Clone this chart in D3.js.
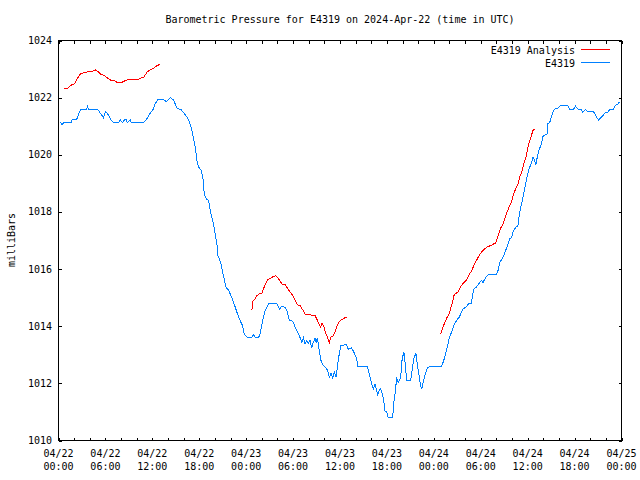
<!DOCTYPE html>
<html>
<head>
<meta charset="utf-8">
<script src="https://cdn.jsdelivr.net/npm/d3@7"></script>
<style>
  html, body { margin: 0; padding: 0; background: #fff; }
  svg { display: block; }
  text { font-family: "DejaVu Sans Mono", "Liberation Mono", monospace; font-size: 10px; fill: #000; }
</style>
</head>
<body>
<script>
// ---- data (hours after 2024-04-22 00:00 UTC, pressure in mb) ----
const startTime = "2024-04-22T00:00:00Z";
const endTime = "2024-04-25T00:00:00Z";
const yDomain = [1010, 1024];
const yTicks = [1010, 1012, 1014, 1016, 1018, 1020, 1022, 1024];
const seriesNames = ["E4319 Analysis", "E4319"];
const seriesColors = ["#ff0000", "#0080ff"];

const obsHours = [0.26,0.45,0.64,1.66,1.72,2.30,2.81,3.57,3.70,3.83,4.98,5.49,5.74,6.00,6.26,6.64,7.02,7.66,7.92,8.17,8.43,8.68,8.81,9.19,9.32,10.85,11.36,11.74,12.13,12.38,12.77,13.40,13.79,14.30,14.68,15.19,15.70,16.09,16.47,16.76,17.07,17.27,17.49,17.71,17.91,18.26,18.47,18.64,18.89,19.19,19.49,19.83,20.04,20.26,20.39,20.59,20.77,21.03,21.23,21.45,21.74,21.96,22.30,22.60,22.89,23.23,23.53,23.74,24.00,24.34,24.64,24.93,25.15,25.57,25.79,26.00,26.21,26.43,26.64,26.85,27.92,28.25,28.56,28.98,29.27,29.53,29.96,30.26,30.55,30.80,31.11,31.32,31.53,31.75,31.95,32.17,32.39,32.59,32.81,32.94,33.10,33.32,33.57,33.87,34.21,34.43,34.63,34.85,35.07,35.27,35.49,35.66,35.87,36.13,36.42,36.77,37.06,37.49,37.79,38.13,38.30,39.49,39.74,39.92,40.12,40.25,40.47,40.69,40.81,41.02,41.20,41.40,41.62,41.74,41.96,42.17,42.73,42.89,43.06,43.24,43.45,43.66,43.79,43.95,44.17,44.34,44.52,45.03,45.23,45.45,45.66,45.79,45.87,46.09,46.30,46.47,46.64,46.85,47.07,47.27,48.13,48.98,49.19,49.40,49.62,49.95,50.26,50.55,50.90,51.23,51.54,51.74,52.09,52.51,52.81,52.94,53.11,53.45,53.78,54.09,54.30,54.51,54.81,54.93,56.00,56.21,56.43,56.77,56.94,57.19,57.49,57.70,57.92,58.13,58.47,58.76,58.89,59.07,59.32,59.53,59.74,59.96,60.17,60.47,60.68,60.89,61.02,61.19,61.44,61.75,61.95,62.30,62.47,62.60,62.81,63.03,63.32,63.57,63.87,64.17,65.14,65.36,65.87,66.13,66.42,66.86,67.06,67.40,67.70,68.43,68.68,68.85,69.06,69.32,69.61,69.96,70.25,70.47,70.98,71.20,71.53,71.74];
const obsPressure = [1021.14,1021.03,1021.12,1021.12,1021.22,1021.22,1021.58,1021.58,1021.69,1021.60,1021.60,1021.40,1021.30,1021.50,1021.45,1021.25,1021.12,1021.12,1021.22,1021.12,1021.22,1021.22,1021.12,1021.22,1021.12,1021.12,1021.28,1021.46,1021.60,1021.80,1021.95,1021.95,1021.85,1022.00,1021.93,1021.62,1021.57,1021.45,1021.30,1021.14,1020.85,1020.56,1020.27,1019.80,1019.57,1019.45,1019.20,1018.63,1018.46,1018.40,1017.93,1017.58,1017.23,1016.88,1016.47,1016.36,1016.18,1015.83,1015.60,1015.34,1015.27,1015.13,1014.90,1014.67,1014.43,1014.20,1014.02,1013.73,1013.64,1013.59,1013.59,1013.70,1013.62,1013.59,1013.73,1014.05,1014.31,1014.55,1014.67,1014.78,1014.78,1014.60,1014.70,1014.65,1014.50,1014.20,1014.18,1013.97,1013.79,1013.67,1013.44,1013.60,1013.38,1013.50,1013.40,1013.50,1013.24,1013.44,1013.58,1013.44,1013.60,1013.20,1012.80,1012.62,1012.54,1012.45,1012.21,1012.35,1012.19,1012.39,1012.21,1012.57,1012.97,1013.33,1013.33,1013.38,1013.20,1013.24,1013.08,1012.86,1012.59,1012.59,1012.33,1012.12,1011.92,1011.80,1011.98,1011.75,1011.61,1011.75,1011.81,1011.65,1011.34,1011.03,1011.00,1010.80,1010.80,1011.34,1011.69,1012.16,1012.04,1012.12,1012.33,1012.86,1013.09,1012.68,1012.10,1012.10,1012.47,1012.86,1013.03,1012.98,1012.68,1012.33,1011.92,1011.81,1012.04,1012.27,1012.47,1012.57,1012.59,1012.59,1012.74,1012.92,1013.15,1013.56,1013.79,1014.02,1014.20,1014.31,1014.49,1014.60,1014.67,1014.80,1014.80,1015.07,1015.30,1015.37,1015.50,1015.60,1015.53,1015.65,1015.77,1015.80,1015.80,1015.95,1016.24,1016.36,1016.47,1016.65,1016.88,1017.06,1017.10,1017.29,1017.47,1017.52,1017.82,1018.10,1018.40,1018.69,1018.98,1019.27,1019.50,1019.70,1019.92,1019.80,1019.63,1019.86,1020.15,1020.38,1020.64,1020.71,1020.71,1021.10,1021.12,1021.32,1021.55,1021.63,1021.63,1021.72,1021.72,1021.60,1021.60,1021.70,1021.60,1021.57,1021.49,1021.59,1021.51,1021.51,1021.39,1021.29,1021.22,1021.29,1021.37,1021.49,1021.49,1021.57,1021.60,1021.72,1021.78,1021.84];

const anaHours1 = [0.68,1.11,1.31,1.75,2.04,2.39,2.81,3.15,3.66,4.17,4.72,5.02,5.36,5.87,6.29,6.73,7.28,7.57,8.00,8.34,8.77,9.19,10.12,10.47,10.89,11.32,11.74,12.17,12.60,12.93];
const anaPressure1 = [1022.31,1022.31,1022.37,1022.46,1022.48,1022.66,1022.83,1022.86,1022.90,1022.91,1022.97,1022.92,1022.83,1022.77,1022.68,1022.60,1022.58,1022.52,1022.52,1022.57,1022.62,1022.62,1022.62,1022.68,1022.71,1022.89,1022.98,1023.03,1023.12,1023.16];
const anaHours2 = [24.73,24.86,25.15,25.37,25.79,26.00,26.21,26.43,26.72,27.15,27.48,27.79,28.00,28.25,28.56,28.98,29.27,29.62,29.96,30.26,30.55,30.89,31.24,31.53,31.83,32.17,32.81,33.02,33.28,33.54,33.66,33.79,33.96,34.12,34.30,34.51,34.63,34.81,35.07,35.36,35.58,35.91,36.22,36.64,36.93];
const anaPressure2 = [1014.57,1014.87,1014.95,1015.07,1015.15,1015.15,1015.30,1015.46,1015.62,1015.69,1015.74,1015.77,1015.71,1015.62,1015.48,1015.46,1015.34,1015.19,1015.08,1014.92,1014.75,1014.72,1014.57,1014.43,1014.40,1014.40,1014.37,1014.26,1014.08,1013.97,1014.08,1014.08,1013.97,1013.79,1013.68,1013.52,1013.41,1013.62,1013.65,1013.79,1013.97,1014.17,1014.23,1014.30,1014.30];
const anaHours3 = [48.86,49.11,49.40,49.70,49.95,50.13,50.39,50.55,50.81,51.10,51.41,51.74,52.17,52.51,52.81,53.11,53.45,53.78,54.09,54.51,54.93,55.36,55.66,55.91,56.08,56.30,56.55,56.77,57.06,57.36,57.61,57.92,58.13,58.47,58.76,58.98,59.32,59.49,59.83,60.04,60.34,60.68,60.89];
const anaPressure3 = [1013.73,1013.91,1014.14,1014.31,1014.43,1014.60,1014.84,1015.07,1015.15,1015.19,1015.37,1015.50,1015.62,1015.81,1015.92,1016.12,1016.30,1016.47,1016.59,1016.71,1016.79,1016.83,1016.88,1016.90,1017.06,1017.23,1017.44,1017.52,1017.76,1017.99,1018.17,1018.34,1018.57,1018.81,1018.98,1019.22,1019.45,1019.68,1019.97,1020.27,1020.56,1020.85,1020.90];

// ---- drawing ----
const W = 640, H = 480;
const pL = 58.5, pR = 621.5, pT = 40.5, pB = 440.5;
const t0 = new Date(startTime), t1 = new Date(endTime);
const toDate = h => new Date(t0.getTime() + h * 3600e3);

const x = d3.scaleUtc().domain([t0, t1]).range([pL, pR]);
const y = d3.scaleLinear().domain(yDomain).range([pB, pT]);

const svg = d3.select("body").append("svg").attr("width", W).attr("height", H);

// frame
svg.append("rect").attr("x", pL).attr("y", pT).attr("width", pR - pL).attr("height", pB - pT)
  .attr("fill", "none").attr("stroke", "#000").attr("stroke-width", 1).attr("shape-rendering", "crispEdges");

// x ticks every 2 hours (bottom and top), labels every 6 hours
const minorTicks = d3.utcHour.every(2).range(t0, d3.utcHour.offset(t1, 1));
const majorTicks = d3.utcHour.every(6).range(t0, d3.utcHour.offset(t1, 1));
const tickLen = 3;

const gB = svg.append("g").attr("transform", `translate(0,${pB})`)
  .call(d3.axisBottom(x).tickValues(minorTicks).tickSize(-tickLen).tickFormat(""));
const gT = svg.append("g").attr("transform", `translate(0,${pT})`)
  .call(d3.axisTop(x).tickValues(minorTicks).tickSize(-tickLen).tickFormat(""));
const gL = svg.append("g").attr("transform", `translate(${pL},0)`)
  .call(d3.axisLeft(y).tickValues(yTicks).tickSize(-tickLen).tickFormat(""));
const gR = svg.append("g").attr("transform", `translate(${pR},0)`)
  .call(d3.axisRight(y).tickValues(yTicks).tickSize(-tickLen).tickFormat(""));
[gB, gT, gL, gR].forEach(g => {
  g.select(".domain").remove();
  g.selectAll("line").attr("stroke", "#000").attr("shape-rendering", "crispEdges");
});

// x tick labels
const fmtD = d3.utcFormat("%m/%d"), fmtT = d3.utcFormat("%H:%M");
const xl = svg.append("g");
majorTicks.forEach(d => {
  const t = xl.append("text").attr("text-anchor", "middle");
  t.append("tspan").attr("x", x(d)).attr("y", 457).text(fmtD(d));
  t.append("tspan").attr("x", x(d)).attr("y", 470).text(fmtT(d));
});

// y tick labels
svg.append("g").selectAll("text").data(yTicks).join("text")
  .attr("x", 52).attr("y", d => y(d)).attr("dy", "0.35em").attr("text-anchor", "end")
  .text(d => d);

// title and y label
svg.append("text").attr("x", (pL + pR) / 2).attr("y", 23).attr("text-anchor", "middle")
  .text("Barometric Pressure for E4319 on 2024-Apr-22 (time in UTC)");
svg.append("text").attr("transform", "translate(15,240) rotate(-90)").attr("text-anchor", "middle")
  .text("milliBars");

// lines
const line = d3.line().x(d => x(toDate(d[0]))).y(d => y(d[1]));
const zip = (a, b) => a.map((v, i) => [v, b[i]]);
const anaSegments = [zip(anaHours1, anaPressure1), zip(anaHours2, anaPressure2), zip(anaHours3, anaPressure3)];

const plot = svg.append("g");
plot.append("path").datum(zip(obsHours, obsPressure)).attr("d", line)
  .attr("fill", "none").attr("stroke", seriesColors[1]).attr("stroke-width", 1).attr("shape-rendering", "crispEdges");
anaSegments.forEach(seg => {
  plot.append("path").datum(seg).attr("d", line)
    .attr("fill", "none").attr("stroke", seriesColors[0]).attr("stroke-width", 1).attr("shape-rendering", "crispEdges");
});

// legend
const lg = svg.append("g");
seriesNames.forEach((name, i) => {
  const yy = 50 + i * 13;
  lg.append("text").attr("x", 575).attr("y", yy).attr("dy", "0.35em").attr("text-anchor", "end").text(name);
  lg.append("line").attr("x1", 581).attr("x2", 610).attr("y1", yy - 0.5).attr("y2", yy - 0.5)
    .attr("stroke", seriesColors[i]).attr("stroke-width", 1).attr("shape-rendering", "crispEdges");
});
</script>
</body>
</html>
